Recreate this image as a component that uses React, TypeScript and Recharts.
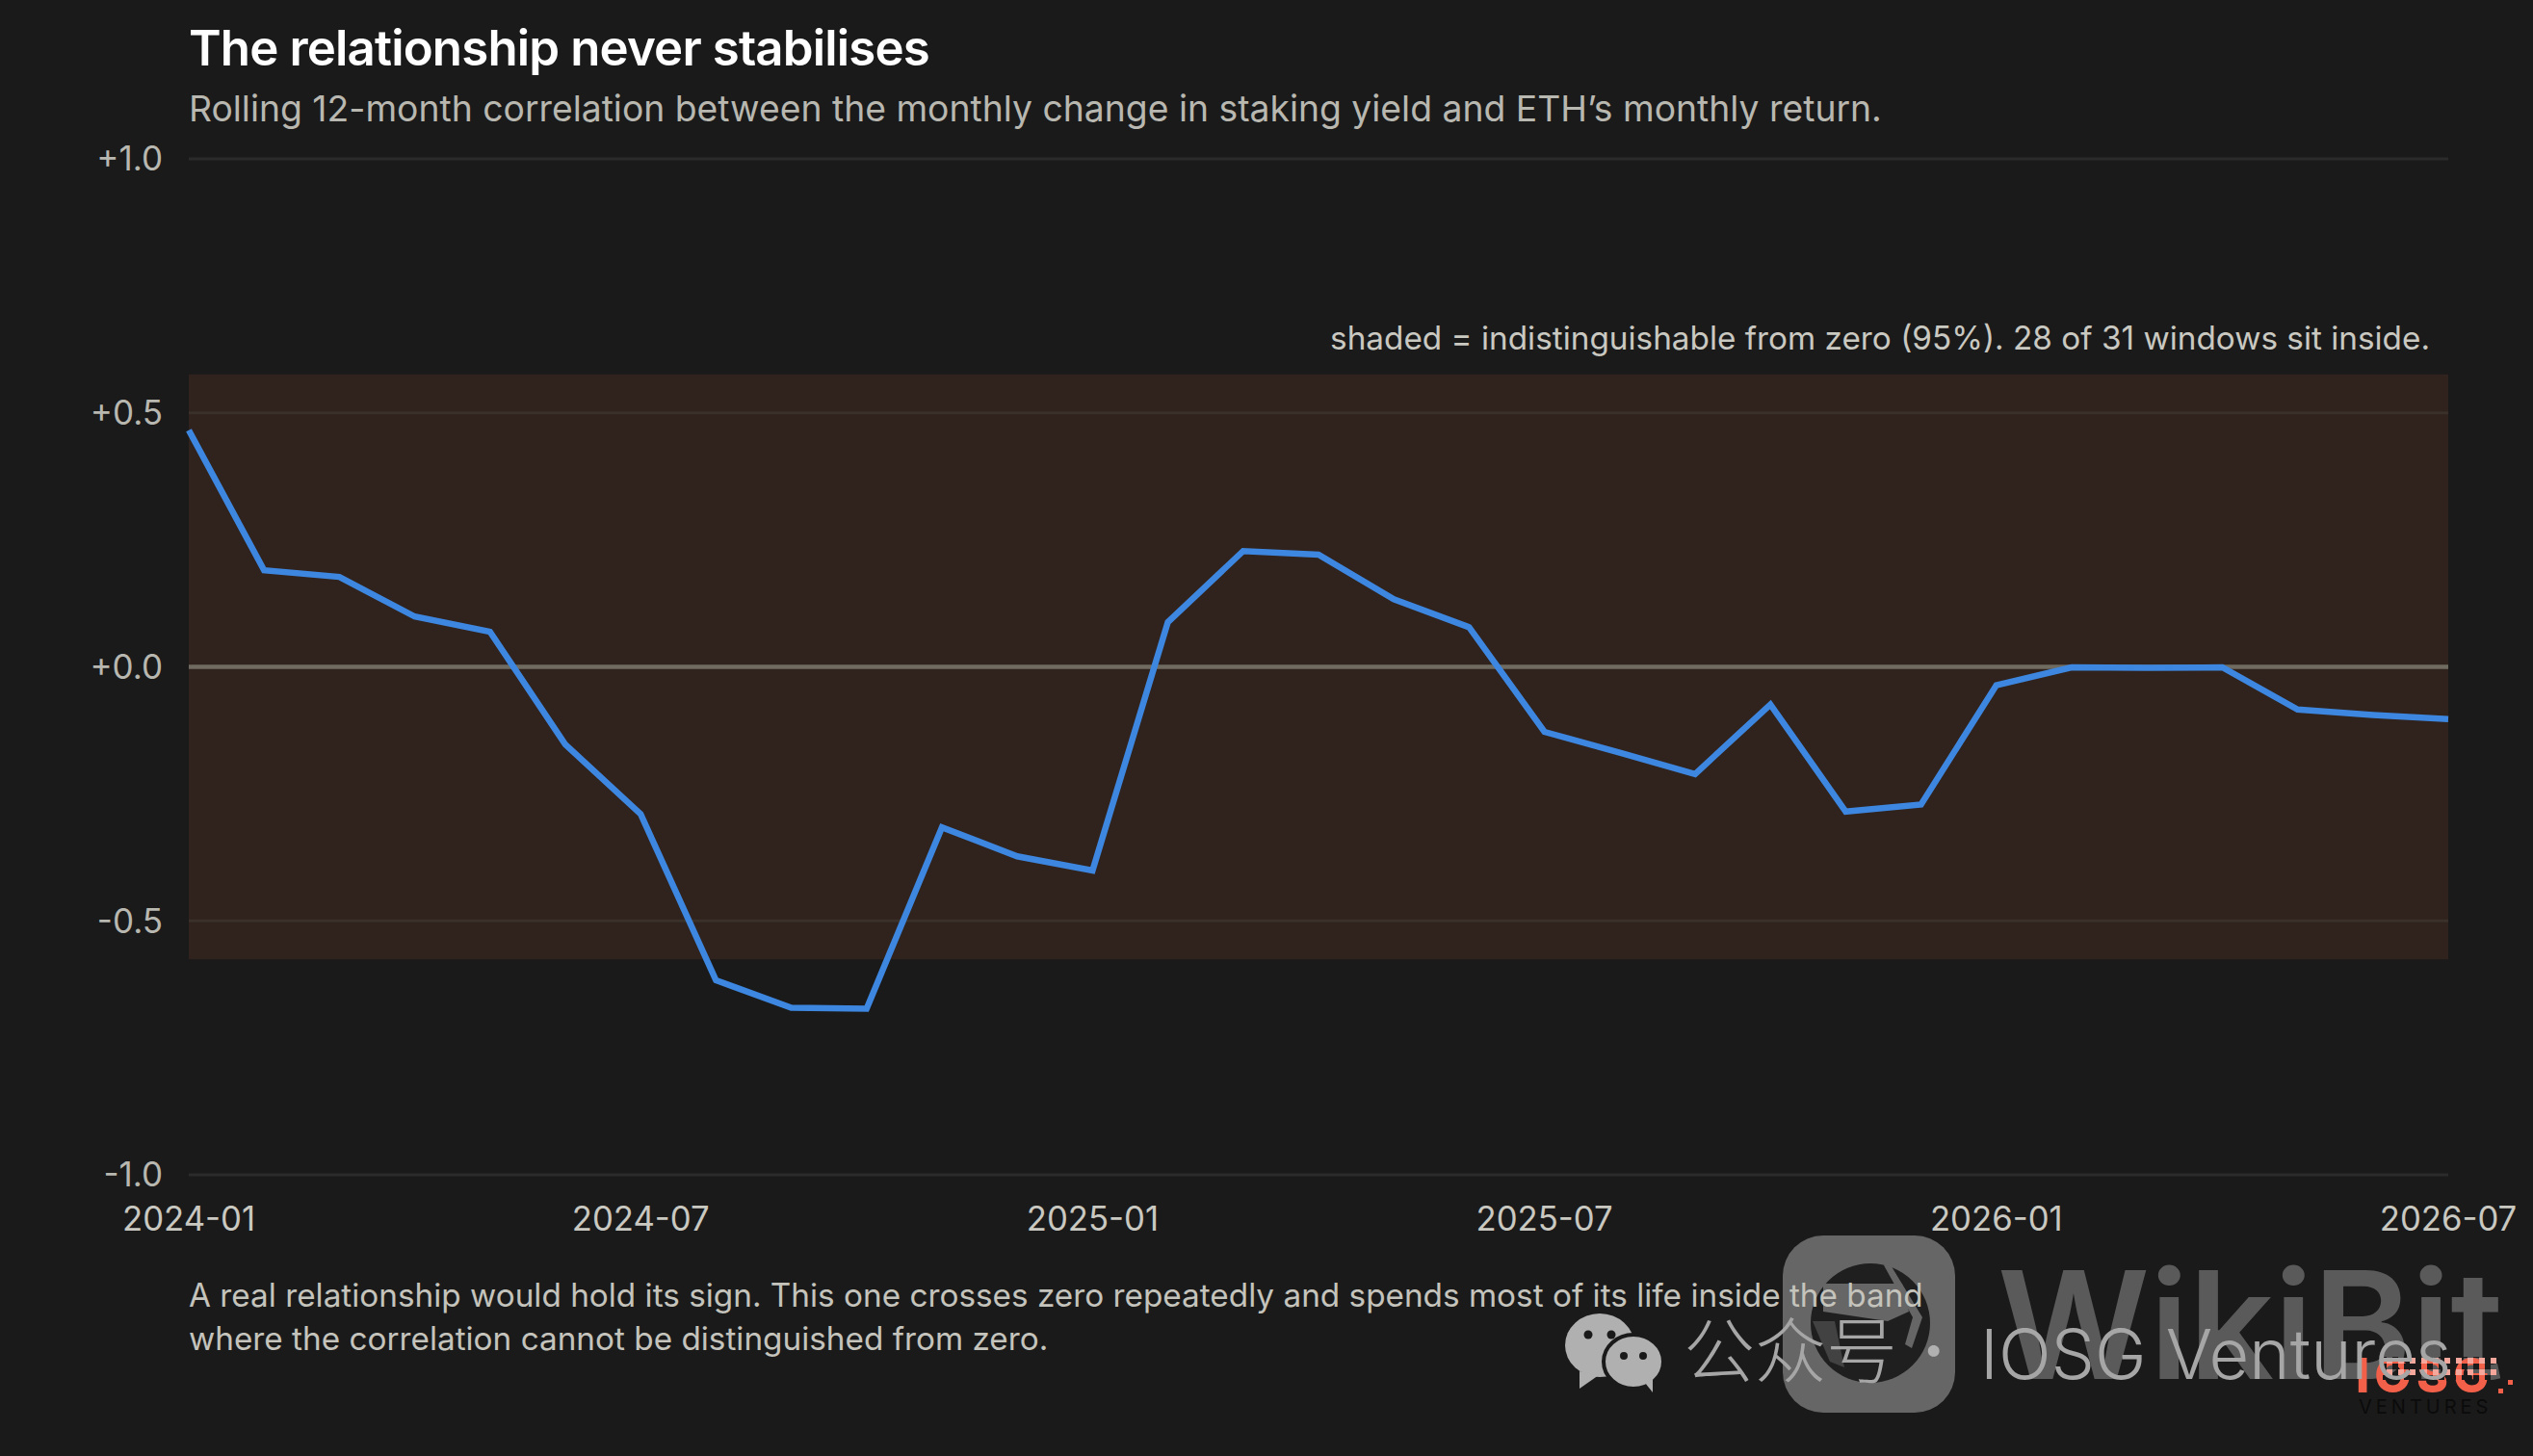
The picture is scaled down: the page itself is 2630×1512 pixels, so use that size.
import {
  ComposedChart,
  Line,
  XAxis,
  YAxis,
  ReferenceArea,
  ReferenceLine,
} from 'recharts'

const months = [
  '2024-01', '2024-02', '2024-03', '2024-04', '2024-05', '2024-06', '2024-07', '2024-08',
  '2024-09', '2024-10', '2024-11', '2024-12', '2025-01', '2025-02', '2025-03', '2025-04',
  '2025-05', '2025-06', '2025-07', '2025-08', '2025-09', '2025-10', '2025-11', '2025-12',
  '2026-01', '2026-02', '2026-03', '2026-04', '2026-05', '2026-06', '2026-07',
]
const correlation = [
  0.466, 0.19, 0.177, 0.099, 0.069, -0.153, -0.29, -0.617,
  -0.671, -0.673, -0.316, -0.373, -0.401, 0.088, 0.228, 0.221,
  0.133, 0.078, -0.128, -0.169, -0.211, -0.074, -0.285, -0.271,
  -0.036, -0.001, -0.002, -0.001, -0.084, -0.095, -0.103,
]
const xTicks = ['2024-01', '2024-07', '2025-01', '2025-07', '2026-01', '2026-07']
const yTicks = [1, 0.5, 0, -0.5, -1]
const outerGrid = [1, -1]
const innerGrid = [0.5, -0.5]
const bandLimit = 0.576

const FONT = 'Inter, "Noto Sans CJK SC", sans-serif'
const chartData = months.map((month, i) => ({ month, value: correlation[i] }))

function formatCorr(v: number) {
  return (v >= 0 ? '+' : '-') + Math.abs(v).toFixed(1)
}

function Label({ x, y, size, color, weight, right, spacing, children }: any) {
  return (
    <div
      style={{
        position: 'absolute',
        left: right ? undefined : x,
        right: right ? 2630 - x : undefined,
        top: y,
        fontSize: size,
        lineHeight: 1,
        color,
        fontWeight: weight || 400,
        letterSpacing: spacing || 0,
        whiteSpace: 'nowrap',
        fontFamily: FONT,
      }}
    >
      {children}
    </div>
  )
}

// Watermarks stacked over the bottom right corner of the picture
function Watermarks() {
  return (
    <>
      <svg width={2630} height={1512} style={{ position: 'absolute', left: 0, top: 0 }}>
        <rect x={1851} y={1283} width={179} height={184} rx={42} fill="#666666" />
        <circle cx={1942} cy={1374} r={62} fill="#1f1f1f" />
        <path d="M1893 1333 L1975 1333 L1982 1362 L1960 1372 L1893 1362 Z" fill="#666666" />
        <path d="M1956 1314 L1962 1312 L1996 1368 L1985 1400 L1978 1396 L1986 1368 Z" fill="#666666" />
        <path d="M1882 1372 L1905 1372 L1915 1420 L1900 1414 Z" fill="#666666" opacity={0.5} />
        <ellipse cx={1661} cy={1397} rx={36} ry={33} fill="#b0b0b0" />
        <path d="M1640 1424 L1640 1442 L1660 1428 Z" fill="#b0b0b0" />
        <ellipse cx={1696} cy={1414} rx={31} ry={28} fill="#b0b0b0" stroke="#1a1a1a" strokeWidth={4} />
        <path d="M1708 1436 L1716 1446 L1716 1430 Z" fill="#b0b0b0" />
        <circle cx={1649} cy={1386} r={4.5} fill="#1a1a1a" />
        <circle cx={1673} cy={1386} r={4.5} fill="#1a1a1a" />
        <circle cx={1686} cy={1408} r={4} fill="#1a1a1a" />
        <circle cx={1706} cy={1408} r={4} fill="#1a1a1a" />
      </svg>
      <Label x={2074} y={1298} size={155} color="#5a5a5a" weight={600}>WikiBit</Label>
      <Label x={2446} y={1403} size={50} color="#f2604a" weight={800} spacing={5}>IOSG</Label>
      <svg width={2630} height={1512} style={{ position: 'absolute', left: 0, top: 0 }}>
        <defs>
          <pattern id="dither" width={12} height={12} patternUnits="userSpaceOnUse">
            <rect x={0} y={0} width={6} height={6} fill="#1a1a1a" />
            <rect x={6} y={6} width={6} height={6} fill="#f4a79a" />
          </pattern>
        </defs>
        <rect x={2474} y={1409} width={118} height={24} fill="url(#dither)" />
        <rect x={2594} y={1442} width={5} height={5} fill="#f2604a" />
        <rect x={2604} y={1433} width={5} height={5} fill="#f2604a" />
      </svg>
      <Label x={1748} y={1366} size={74} color="#a6a6a6" weight={300}>公众号</Label>
      <Label x={1996} y={1367} size={70} color="#b0b0b0" weight={700}>·</Label>
      <Label x={2056} y={1370} size={72} color="#a6a6a6" weight={300}>IOSG Ventures</Label>
      <Label x={2449} y={1451} size={20} color="#0b0b0b" spacing={4}>VENTURES</Label>
    </>
  )
}

export default function App() {
  return (
    <div style={{ position: 'absolute', left: 0, top: 0, width: 2630, height: 1512, background: '#1a1a1a', overflow: 'hidden' }}>
      <style>{'body{margin:0;background:#1a1a1a}'}</style>
      <Watermarks />
      <Label x={196} y={24} size={51} color="#ffffff" weight={600} spacing={-0.85}>The relationship never stabilises</Label>
      <Label x={196} y={94} size={37.3} color="#b8b7b0">
        Rolling 12-month correlation between the monthly change in staking yield and ETH’s monthly return.
      </Label>
      <Label x={2523} y={335} size={33.3} color="#c9c8c1" right>
        shaded = indistinguishable from zero (95%). 28 of 31 windows sit inside.
      </Label>
      <Label x={196} y={1329} size={33.3} color="#c4c3bc">
        A real relationship would hold its sign. This one crosses zero repeatedly and spends most of its life inside the band
      </Label>
      <Label x={196} y={1374} size={33.3} color="#c4c3bc">
        where the correlation cannot be distinguished from zero.
      </Label>
      <div style={{ position: 'absolute', left: 0, top: 0 }}>
        <ComposedChart
          width={2630}
          height={1512}
          data={chartData}
          margin={{ top: 165, right: 88, bottom: 232, left: 96 }}
        >
          <XAxis
            dataKey="month"
            ticks={xTicks}
            interval={0}
            height={60}
            axisLine={false}
            tickLine={false}
            tickSize={0}
            tickMargin={33}
            tick={{ fontSize: 34.7, fill: '#c9c8c1', fontFamily: FONT }}
          />
          <YAxis
            type="number"
            domain={[-1, 1]}
            ticks={yTicks}
            width={100}
            axisLine={false}
            tickLine={false}
            tickSize={0}
            tickMargin={27}
            tickFormatter={formatCorr}
            tick={{ fontSize: 35, fill: '#b8b7b0', fontFamily: FONT }}
          />
          <ReferenceArea y1={-bandLimit} y2={bandLimit} fill="#30221c" fillOpacity={1} stroke="none" />
          {outerGrid.map((v) => (
            <ReferenceLine key={v} y={v} stroke="#2b2b2b" strokeWidth={3} />
          ))}
          {innerGrid.map((v) => (
            <ReferenceLine key={v} y={v} stroke="#39312a" strokeWidth={3} />
          ))}
          <ReferenceLine y={0} stroke="#6f6b60" strokeWidth={4.5} />
          <Line
            dataKey="value"
            type="linear"
            stroke="#3d87e0"
            strokeWidth={6.5}
            dot={false}
            isAnimationActive={false}
          />
        </ComposedChart>
      </div>
    </div>
  )
}
